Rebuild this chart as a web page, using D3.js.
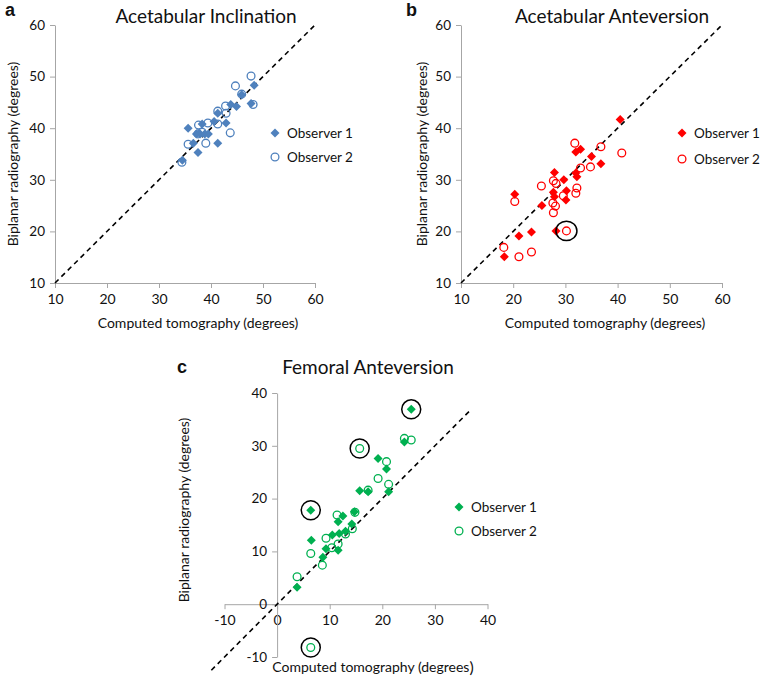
<!DOCTYPE html>
<html>
<head>
<meta charset="utf-8">
<script src="https://cdn.jsdelivr.net/npm/d3@7"></script>
<style>
  html, body { margin: 0; padding: 0; background: #fff; }
  svg { display: block; }
  text { font-family: Lato, "Open Sans", sans-serif; fill: #111; }
</style>
</head>
<body>
<svg id="chart" width="762" height="677"></svg>
<script>
// ---------------- DATA ----------------
const ticksAB = [10, 20, 30, 40, 50, 60];
const ticksC = [-10, 0, 10, 20, 30, 40];
const seriesNames = ["Observer 1", "Observer 2"];
const titles = ["Acetabular Inclination", "Acetabular Anteversion", "Femoral Anteversion"];
const panelLetters = ["a", "b", "c"];
const xLabel = "Computed tomography (degrees)";
const yLabel = "Biplanar radiography (degrees)";

// Panel a: Acetabular Inclination [CT, biplanar]
const incObs1 = [[48.3,48.3],[45.9,46.5],[43.8,44.6],[44.9,44.2],[47.7,44.8],[41.3,42.9],[40.6,41.3],[42.9,41.0],
  [35.6,40.0],[38.3,40.8],[37.2,38.9],[37.9,38.9],[38.8,38.9],[39.5,38.9],[36.6,37.1],[41.3,37.1],[37.5,35.3],[34.5,33.8]];
const incObs2 = [[47.7,50.1],[44.7,48.2],[45.9,46.6],[42.8,44.3],[48.1,44.6],[41.3,43.3],[42.9,42.9],[37.6,40.6],
  [39.4,41.0],[41.3,40.8],[43.7,39.1],[35.6,36.9],[39.0,37.1],[34.4,33.4],[37.5,38.9],[38.3,39.2]];

// Panel b: Acetabular Anteversion
const antObs1 = [[40.5,41.7],[32.0,35.4],[32.9,35.9],[35.0,34.5],[36.8,33.1],[27.9,31.4],[29.7,30.0],[32.0,31.3],
  [32.2,30.6],[20.3,27.2],[27.7,27.6],[27.9,26.7],[30.2,27.9],[30.1,26.1],[25.5,25.0],[21.1,19.1],[23.5,19.9],
  [28.2,20.1],[18.3,15.1]];
const antObs2 = [[31.8,37.1],[36.8,36.4],[40.8,35.2],[32.9,32.3],[34.8,32.5],[25.4,28.8],[27.7,29.8],[28.2,29.3],
  [20.3,25.8],[29.6,26.9],[32.2,28.4],[32.0,27.4],[27.6,25.5],[28.1,24.9],[27.7,23.6],[30.2,20.1],[18.2,16.9],
  [21.1,15.1],[23.5,16.0]];
const antCircled = [[30.2,20.1]];

// Panel c: Femoral Anteversion
const femObs1 = [[25.5,36.9],[6.4,17.8],[24.2,30.7],[19.2,27.6],[20.8,25.6],[15.7,21.5],[17.3,21.3],[21.2,21.3],
  [14.7,17.5],[11.6,15.6],[12.5,16.7],[14.2,15.2],[10.5,13.1],[11.8,13.4],[13.0,13.8],[9.3,10.5],[11.6,10.2],
  [6.5,12.1],[8.7,8.9],[3.8,3.2]];
const femObs2 = [[15.7,29.5],[24.2,31.4],[25.5,31.1],[20.8,27.0],[19.2,23.8],[21.2,22.7],[17.3,21.6],[14.8,17.4],
  [11.4,16.9],[14.3,14.3],[13.0,13.3],[9.3,12.5],[11.6,11.4],[10.4,10.7],[6.4,9.6],[8.6,7.4],[3.8,5.2],[6.4,-8.2]];
const femCircled = [[25.5,36.9],[15.7,29.5],[6.4,17.8],[6.4,-8.2]];

// identity reference lines [start, end]
const identityAB = [10, 60];
const identityC = [-12.5, 37];

// ---------------- DRAW ----------------
const svg = d3.select("#chart");

const panels = [
  { title: titles[0], letter: panelLetters[0], obs1: incObs1, obs2: incObs2, circled: [],
    color: "#4f81bd", ticks: ticksAB, domain: [10, 60], identity: identityAB,
    xr: [55, 315], yr: [283, 25], axisAtZero: false,
    titlePos: [206, 15], letterPos: [5, 16], xLabelPos: [198, 322], yLabelPos: [12, 154],
    legend: [275, 133, 24] },
  { title: titles[1], letter: panelLetters[1], obs1: antObs1, obs2: antObs2, circled: antCircled,
    color: "#ff0000", ticks: ticksAB, domain: [10, 60], identity: identityAB,
    xr: [461, 722], yr: [283, 25], axisAtZero: false,
    titlePos: [612, 15], letterPos: [406, 16], xLabelPos: [605, 322], yLabelPos: [421, 154],
    legend: [682, 133, 26] },
  { title: titles[2], letter: panelLetters[2], obs1: femObs1, obs2: femObs2, circled: femCircled,
    color: "#00b050", ticks: ticksC, domain: [-10, 40], identity: identityC,
    xr: [224.5, 487.5], yr: [657, 393], axisAtZero: true,
    titlePos: [368, 366], letterPos: [177, 373], xLabelPos: [373, 666], yLabelPos: [183, 510],
    legend: [459, 507, 24] }
];

function diamondPath(r) {
  return `M0,${-r}L${r},0L0,${r}L${-r},0Z`;
}

panels.forEach(p => {
  const g = svg.append("g");
  const x = d3.scaleLinear().domain(p.domain).range(p.xr);
  const y = d3.scaleLinear().domain(p.domain).range(p.yr);

  const xAxisY = p.axisAtZero ? y(0) : y(p.domain[0]);
  const yAxisX = p.axisAtZero ? x(0) : x(p.domain[0]);

  const fmt = d => String(d);
  const xAxis = d3.axisBottom(x).tickValues(p.ticks).tickFormat(fmt).tickSize(5).tickSizeOuter(0).tickPadding(6);
  const yAxis = d3.axisLeft(y).tickValues(p.ticks).tickFormat(fmt).tickSize(5).tickSizeOuter(0).tickPadding(5);

  const gx = g.append("g").attr("transform", `translate(0,${xAxisY})`).call(xAxis);
  const gy = g.append("g").attr("transform", `translate(${yAxisX},0)`).call(yAxis);
  [gx, gy].forEach(a => {
    a.select(".domain").attr("stroke", "#a6a6a6").attr("stroke-width", 1);
    a.selectAll(".tick line").attr("stroke", "#a6a6a6");
    a.selectAll(".tick text").style("font-family", "Lato, sans-serif").style("font-size", "14px").attr("fill", "#111");
  });
  gy.selectAll(".tick text").style("font-size", "13.5px");

  // identity dashed line
  g.append("line")
    .attr("x1", x(p.identity[0])).attr("y1", y(p.identity[0]))
    .attr("x2", x(p.identity[1])).attr("y2", y(p.identity[1]))
    .attr("stroke", "#000").attr("stroke-width", 1.6).attr("stroke-dasharray", "5,4");

  // Observer 1 diamonds
  g.selectAll(".d1").data(p.obs1).enter().append("path")
    .attr("d", diamondPath(4.5))
    .attr("transform", d => `translate(${x(d[0])},${y(d[1])})`)
    .attr("fill", p.color);

  // Observer 2 circles
  g.selectAll(".d2").data(p.obs2).enter().append("circle")
    .attr("cx", d => x(d[0])).attr("cy", d => y(d[1])).attr("r", 3.9)
    .attr("fill", "none").attr("stroke", p.color).attr("stroke-width", 1.3);

  // annotation circles
  g.selectAll(".ann").data(p.circled).enter().append("ellipse")
    .attr("cx", d => x(d[0])).attr("cy", d => y(d[1]))
    .attr("rx", p.axisAtZero ? 9.5 : 10.5).attr("ry", p.axisAtZero ? 9.5 : 9.7)
    .attr("fill", "none").attr("stroke", "#000").attr("stroke-width", 1.5);

  // titles
  g.append("text").attr("x", p.titlePos[0]).attr("y", p.titlePos[1])
    .attr("text-anchor", "middle").attr("dominant-baseline", "central")
    .style("font-size", "19px").text(p.title);
  g.append("text").attr("x", p.letterPos[0]).attr("y", p.letterPos[1])
    .style("font-family", "'Liberation Sans', Arial, sans-serif").style("font-weight", "bold")
    .style("font-size", "18px").text(p.letter);

  // axis labels
  const xl = g.append("text").attr("x", p.xLabelPos[0]).attr("y", p.xLabelPos[1])
    .attr("text-anchor", "middle").attr("dominant-baseline", "central")
    .style("font-size", "14px");
  if (p.axisAtZero) {
    xl.text(xLabel.slice(0, -1));
    xl.append("tspan").style("font-size", "16px").text(")");
  } else {
    xl.text(xLabel);
  }
  g.append("text")
    .attr("transform", `translate(${p.yLabelPos[0]},${p.yLabelPos[1]}) rotate(-90)`)
    .attr("text-anchor", "middle").attr("dominant-baseline", "central")
    .style("font-size", "14px").text(yLabel);

  // legend
  const [lx, ly, lgap] = p.legend;
  g.append("path").attr("d", diamondPath(4.5)).attr("transform", `translate(${lx},${ly})`).attr("fill", p.color);
  g.append("circle").attr("cx", lx).attr("cy", ly + lgap).attr("r", 3.9)
    .attr("fill", "none").attr("stroke", p.color).attr("stroke-width", 1.3);
  seriesNames.forEach((n, i) => {
    g.append("text").attr("x", lx + 12).attr("y", ly + i * lgap)
      .attr("dominant-baseline", "central").style("font-size", "13.5px").text(n);
  });
});
</script>
</body>
</html>
